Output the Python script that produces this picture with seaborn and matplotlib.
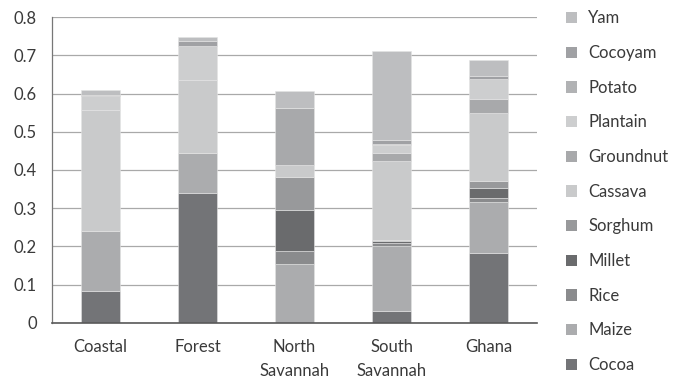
import matplotlib
matplotlib.use("Agg")
import matplotlib.pyplot as plt
from matplotlib.patches import Patch
import numpy as np
import pandas as pd
import seaborn as sns

regions = ["Coastal", "Forest", "North\nSavannah", "South\nSavannah", "Ghana"]

# crop shares per region, stacked bottom to top
crops = ["Cocoa", "Maize", "Rice", "Millet", "Sorghum", "Cassava",
         "Groundnut", "Plantain", "Potato", "Cocoyam", "Yam"]
cocoa     = [0.083, 0.339, 0.000, 0.031, 0.183]
maize     = [0.158, 0.106, 0.154, 0.170, 0.134]
rice      = [0.000, 0.000, 0.034, 0.008, 0.009]
millet    = [0.000, 0.000, 0.108, 0.004, 0.026]
sorghum   = [0.000, 0.000, 0.086, 0.004, 0.020]
cassava   = [0.316, 0.191, 0.031, 0.207, 0.177]
groundnut = [0.000, 0.000, 0.149, 0.021, 0.036]
plantain  = [0.036, 0.090, 0.000, 0.021, 0.053]
potato    = [0.000, 0.000, 0.000, 0.003, 0.000]
cocoyam   = [0.004, 0.012, 0.000, 0.010, 0.008]
yam       = [0.013, 0.011, 0.044, 0.234, 0.042]

series = [cocoa, maize, rice, millet, sorghum, cassava,
          groundnut, plantain, potato, cocoyam, yam]
colors = ["#737477", "#abacae", "#8a8b8d", "#6a6b6d", "#98999b", "#c9cacb",
          "#a8a9ab", "#cdcecf", "#b1b2b4", "#a0a1a4", "#bdbec0"]

sns.set_style("white")
plt.rcParams["font.family"] = ["Lato", "DejaVu Sans"]
text_color = "#3a3a3a"
fs = 12

fig = plt.figure(figsize=(6.73, 3.80), dpi=100)
ax = fig.add_axes([0.0773, 0.1508, 0.7207, 0.8037])

bottom = np.zeros(len(regions))
for crop, vals, col in zip(crops, series, colors):
    df = pd.DataFrame({"region": regions, "share": vals})
    sns.barplot(data=df, x="region", y="share", order=regions, color=col,
                width=0.4, bottom=bottom, errorbar=None, ax=ax,
                edgecolor="#e4e4e4", linewidth=0.4, saturation=1, zorder=3)
    bottom = bottom + np.array(vals)

ax.set_xlim(-0.5, len(regions) - 0.5)
ax.set_ylim(0, 0.8)
ax.set_yticks(np.arange(0, 0.81, 0.1))
ax.set_yticklabels(["0", "0.1", "0.2", "0.3", "0.4", "0.5", "0.6", "0.7", "0.8"])
ax.yaxis.grid(True, color="#a9a9a9", linewidth=0.9, zorder=0)
ax.xaxis.grid(False)
ax.set_axisbelow(True)
ax.set_xlabel("")
ax.set_ylabel("")

ax.set_xticks(range(len(regions)))
ax.set_xticklabels(regions, fontsize=fs, color=text_color, linespacing=1.55)
ax.tick_params(axis="x", length=0, pad=12)
ax.set_xticks(np.arange(0.5, len(regions) - 0.5 + 1e-9, 1.0), minor=True)
ax.tick_params(axis="x", which="minor", length=5, width=0.9, color="#595959",
               direction="out")
ax.tick_params(axis="y", length=5, width=0.9, color="#777777", direction="out",
               labelsize=fs, labelcolor=text_color, pad=6)

for side in ["top", "right"]:
    ax.spines[side].set_visible(False)
ax.spines["left"].set_color("#777777")
ax.spines["left"].set_linewidth(0.9)
ax.spines["bottom"].set_color("#595959")
ax.spines["bottom"].set_linewidth(1.2)
ax.spines["bottom"].set_zorder(4)

handles = [Patch(facecolor=c, edgecolor="none", label=n)
           for n, c in zip(crops, colors)][::-1]
fig.legend(handles=handles, loc="upper left", bbox_to_anchor=(0.831, 0.99),
           frameon=False, fontsize=fs, labelcolor=text_color,
           handlelength=0.65, handleheight=0.65, handletextpad=0.7,
           labelspacing=1.12, borderaxespad=0)

fig.savefig("out.png", dpi=100)
